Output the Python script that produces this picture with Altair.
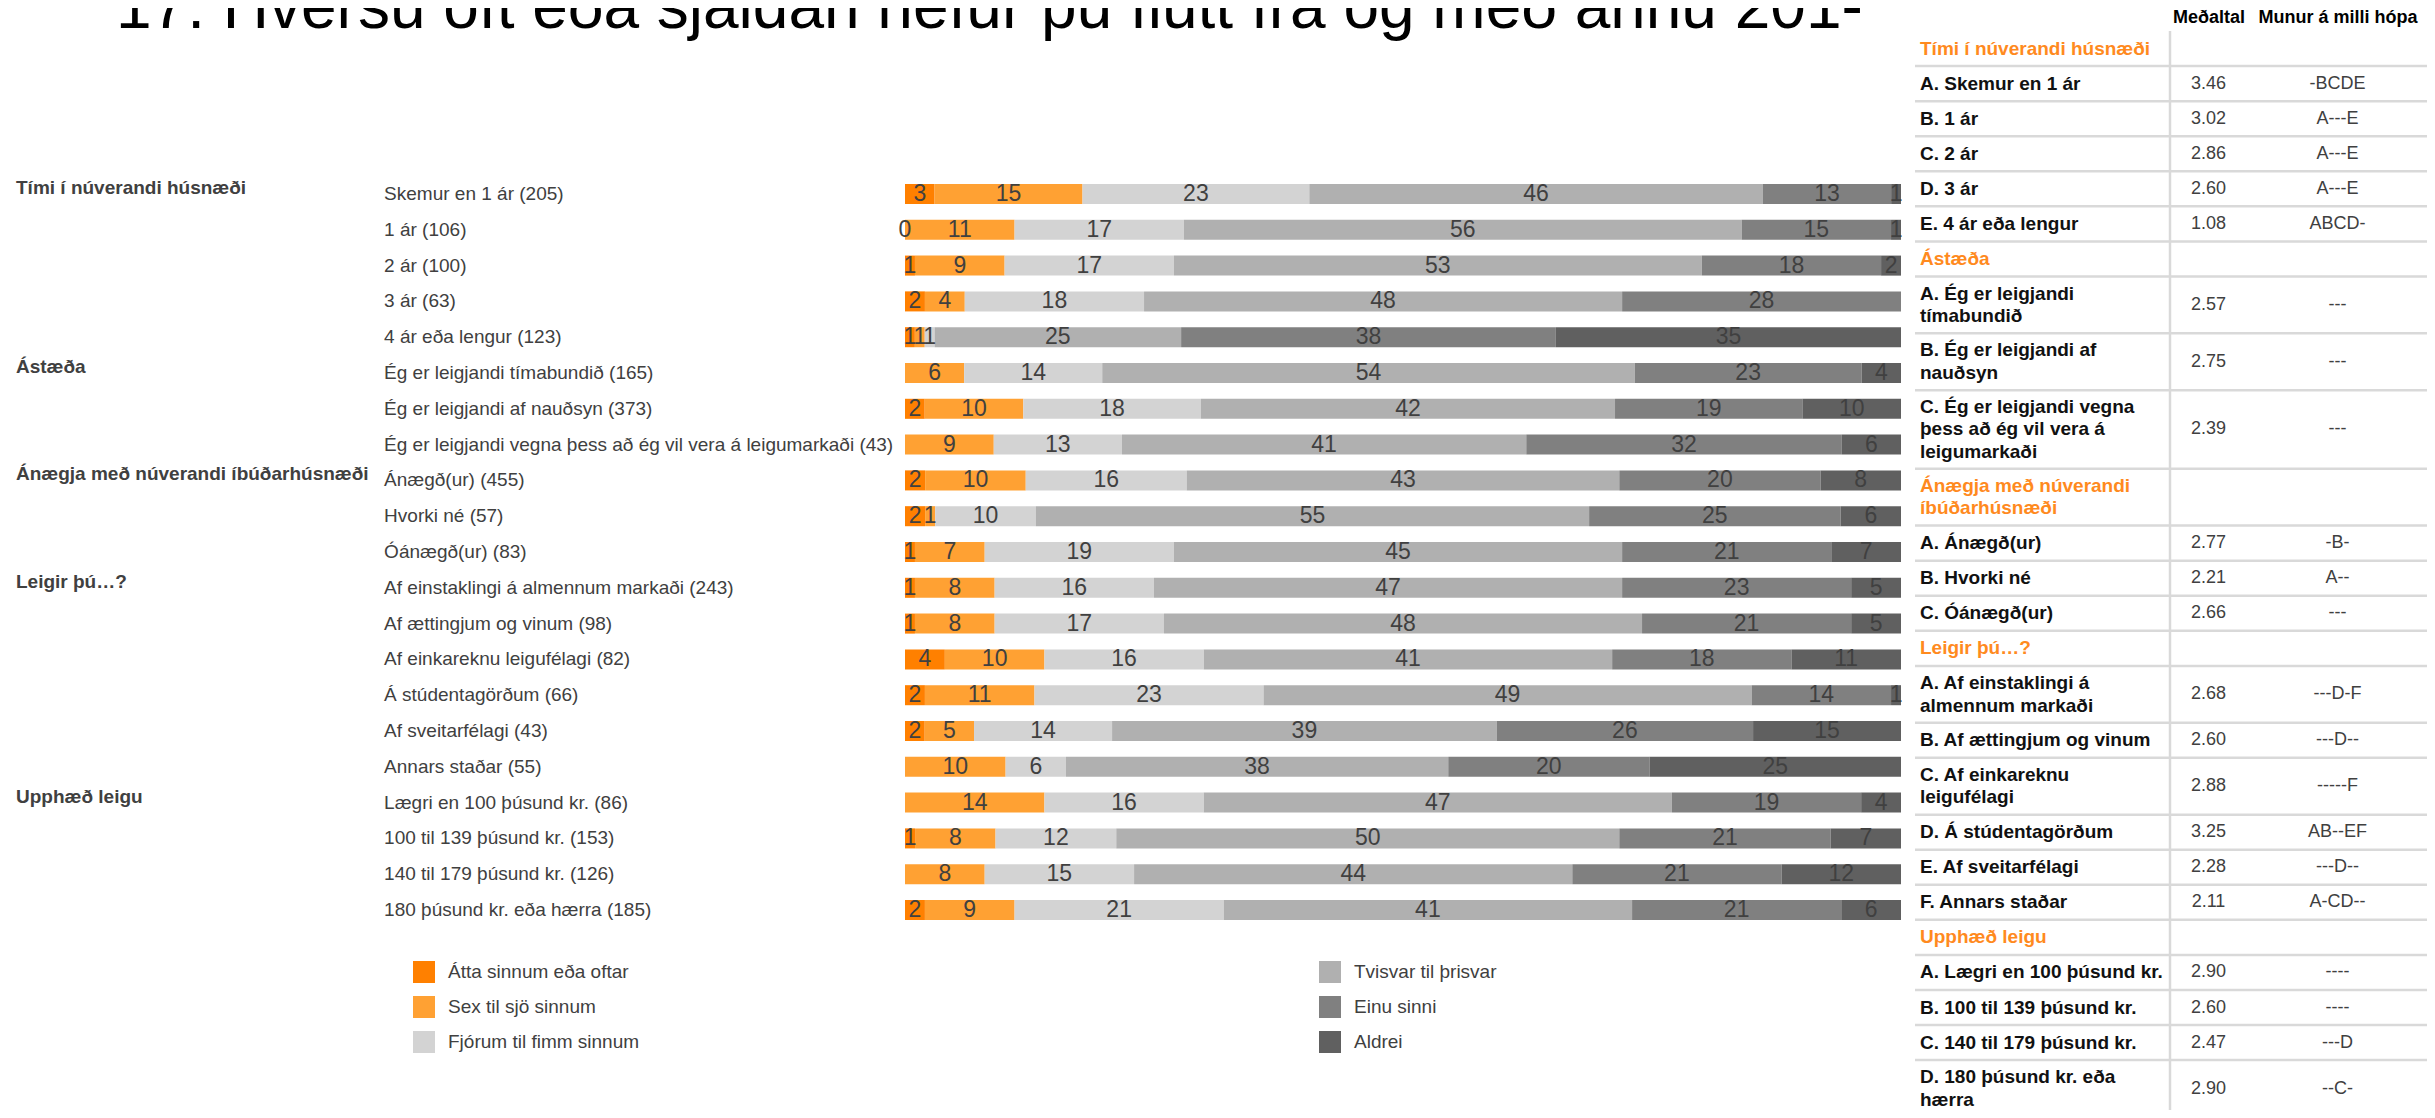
import json
import altair as alt
import pandas as pd

FONT = "Liberation Sans, Arial, sans-serif"
TXT = "#404040"
ORANGE_HDR = "#FF8A1E"

title_text = "17. Hversu oft eða sjaldan hefur þú flutt frá og með árinu 201-"

# ---------------- bar chart data ----------------
rows = [
    "Skemur en 1 ár  (205)", "1 ár (106)", "2 ár  (100)", "3 ár (63)", "4 ár eða lengur (123)",
    "Ég er leigjandi tímabundið (165)", "Ég er leigjandi af nauðsyn  (373)",
    "Ég er leigjandi vegna þess að ég vil vera á leigumarkaði  (43)",
    "Ánægð(ur) (455)", "Hvorki né (57)", "Óánægð(ur) (83)",
    "Af einstaklingi á almennum markaði (243)", "Af ættingjum og vinum (98)",
    "Af einkareknu leigufélagi (82)", "Á stúdentagörðum (66)", "Af sveitarfélagi (43)",
    "Annars staðar (55)", "Lægri en 100 þúsund kr. (86)", "100 til 139 þúsund kr. (153)",
    "140 til 179 þúsund kr. (126)", "180 þúsund kr. eða hærra (185)",
]
group_names = ["Tími í núverandi húsnæði", "Ástæða", "Ánægja með núverandi íbúðarhúsnæði",
               "Leigir þú…?", "Upphæð leigu"]
group_first_row = [0, 5, 8, 11, 17]

cats = ["Átta sinnum eða oftar", "Sex til sjö sinnum", "Fjórum til fimm sinnum",
        "Tvisvar til þrisvar", "Einu sinni", "Aldrei"]
cat_colors = ["#FF8000", "#FFA133", "#D3D3D3", "#B0B0B0", "#808080", "#606060"]

atta = [3, 0, 1, 2, 1, None, 2, None, 2, 2, 1, 1, 1, 4, 2, 2, None, None, 1, None, 2]
sex = [15, 11, 9, 4, 1, 6, 10, 9, 10, 1, 7, 8, 8, 10, 11, 5, 10, 14, 8, 8, 9]
fjorum = [23, 17, 17, 18, 1, 14, 18, 13, 16, 10, 19, 16, 17, 16, 23, 14, 6, 16, 12, 15, 21]
tvisvar = [46, 56, 53, 48, 25, 54, 42, 41, 43, 55, 45, 47, 48, 41, 49, 39, 38, 47, 50, 44, 41]
einu = [13, 15, 18, 28, 38, 23, 19, 32, 20, 25, 21, 23, 21, 18, 14, 26, 20, 19, 21, 21, 21]
aldrei = [1, 1, 2, None, 35, 4, 10, 6, 8, 6, 7, 5, 5, 11, 1, 15, 25, 4, 7, 12, 6]

# ---------------- table data ----------------
tbl_labels = [
    "Tími í núverandi húsnæði", "A. Skemur en 1 ár", "B. 1 ár", "C. 2 ár", "D. 3 ár",
    "E. 4 ár eða lengur", "Ástæða", "A. Ég er leigjandi\ntímabundið",
    "B. Ég er leigjandi af\nnauðsyn", "C. Ég er leigjandi vegna\nþess að ég vil vera á\nleigumarkaði",
    "Ánægja með núverandi\níbúðarhúsnæði", "A. Ánægð(ur)", "B. Hvorki né", "C. Óánægð(ur)",
    "Leigir þú…?", "A. Af einstaklingi á\nalmennum markaði", "B. Af ættingjum og vinum",
    "C. Af einkareknu\nleigufélagi", "D. Á stúdentagörðum", "E. Af sveitarfélagi",
    "F. Annars staðar", "Upphæð leigu", "A. Lægri en 100 þúsund kr.", "B. 100 til 139 þúsund kr.",
    "C. 140 til 179 þúsund kr.", "D. 180 þúsund kr. eða\nhærra",
]
tbl_header = [True, False, False, False, False, False, True, False, False, False, True,
              False, False, False, True, False, False, False, False, False, False, True,
              False, False, False, False]
tbl_means = [None, 3.46, 3.02, 2.86, 2.60, 1.08, None, 2.57, 2.75, 2.39, None, 2.77, 2.21,
             2.66, None, 2.68, 2.60, 2.88, 3.25, 2.28, 2.11, None, 2.90, 2.60, 2.47, 2.90]
tbl_diffs = ["", "-BCDE", "A---E", "A---E", "A---E", "ABCD-", "", "---", "---", "---", "",
             "-B-", "A--", "---", "", "---D-F", "---D--", "-----F", "AB--EF", "---D--",
             "A-CD--", "", "----", "----", "---D", "--C-"]
col_mean = "Meðaltal"
col_diff = "Munur á milli hópa"

# ---------------- build tables ----------------
series = [atta, sex, fjorum, tvisvar, einu, aldrei]
recs = []
for i, r in enumerate(rows):
    for k, (c, s) in enumerate(zip(cats, series)):
        if s[i] is not None:
            recs.append({"row": r, "cat": c, "k": k, "v": s[i]})
bar_df = pd.DataFrame(recs)

# ---------------- bar section ----------------
yscale = alt.Scale(domain=rows, range=[168.1, 919.9], paddingInner=0.44, paddingOuter=0.22)
xscale = alt.Scale(domain=[0, 1], range=[897, 1893], nice=False, zero=False)
cscale = alt.Scale(domain=cats, range=cat_colors)

expr = " : ".join(
    f"datum.value === {json.dumps(rows[i])} ? {json.dumps(g)}"
    for i, g in zip(group_first_row, group_names)
) + " : ''"

axis_rows = alt.Axis(orient="left", title=None, domain=False, ticks=False, tickSize=0,
                     grid=False, labelAlign="left", labelBaseline="middle",
                     labelPadding=-375.6, labelFontSize=19, labelFont=FONT,
                     labelColor=TXT, labelLimit=0, labelOverlap=False)
axis_groups = alt.Axis(orient="left", title=None, domain=False, ticks=False, tickSize=0,
                       grid=False, labelAlign="left", labelBaseline="middle",
                       labelPadding=-7.5, labelOffset=-6, labelFontSize=19, labelFont=FONT,
                       labelFontWeight="bold", labelColor=TXT, labelLimit=0,
                       labelOverlap=False, labelExpr=expr)

legend = alt.Legend(title=None, orient="none", legendX=405, legendY=953, columns=2,
                    columnPadding=679, rowPadding=13, symbolType="square", symbolSize=484,
                    symbolStrokeWidth=0, labelFontSize=19, labelFont=FONT, labelColor=TXT,
                    labelOffset=13, labelLimit=0)

stacked = alt.Chart(bar_df).transform_stack(
    stack="v", groupby=["row"], as_=["x0", "x1"], offset="normalize",
    sort=[alt.SortField("k", order="ascending")],
).transform_calculate(xm="(datum.x0 + datum.x1) / 2")

bars = stacked.mark_bar().encode(
    y=alt.Y("row:N", sort=rows, scale=yscale, axis=axis_rows),
    x=alt.X("x0:Q", scale=xscale, axis=None),
    x2="x1:Q",
    color=alt.Color("cat:N", scale=cscale, legend=legend),
)
nums = stacked.mark_text(fontSize=23, font=FONT, color=TXT, baseline="middle").encode(
    y=alt.Y("row:N", sort=rows, scale=yscale, axis=axis_groups),
    x=alt.X("xm:Q", scale=xscale, axis=None),
    text=alt.Text("v:Q", format="d"),
)
bar_sub = alt.layer(bars, nums).resolve_axis(y="independent")

# ---------------- table section ----------------
UNIT = 21.78
PAD = 0.61
LINE_H = 22.5
TOP = 23
tdf = pd.DataFrame({"label": tbl_labels, "hdr": tbl_header})
tdf[col_mean] = [f"{m:.2f}" if m is not None else "" for m in tbl_means]
tdf[col_diff] = tbl_diffs
tdf["n"] = tdf["label"].str.count("\n") + 1
tdf["h"] = tdf["n"] + PAD
tdf["bot"] = tdf["h"].cumsum()
tdf["top"] = tdf["bot"] - tdf["h"]
tdf["mid"] = tdf["top"] + tdf["h"] / 2
total = float(tdf["bot"].iloc[-1])
yt = alt.Scale(domain=[0, total], range=[TOP, TOP + total * UNIT], nice=False, zero=False)

# one record per text line of each table label, centred on its row
line_recs = []
for _, r in tdf.iterrows():
    parts = r["label"].split("\n")
    for j, p in enumerate(parts):
        line_recs.append({"txt": p, "hdr": bool(r["hdr"]),
                          "y": r["mid"] + (j - (len(parts) - 1) / 2) * LINE_H / UNIT})
ldf = pd.DataFrame(line_recs)

tbase = alt.Chart(tdf)
hlines = tbase.mark_rule(color="#D9D9D9", strokeWidth=2.5).encode(
    y=alt.Y("bot:Q", scale=yt, axis=None), x=alt.value(1907), x2=alt.value(2419))
vline = alt.Chart(pd.DataFrame({"a": [0.0], "b": [total]})).mark_rule(
    color="#D9D9D9", strokeWidth=2.5).encode(
    y=alt.Y("a:Q", scale=yt, axis=None), y2="b:Q", x=alt.value(2162))
tlabels = alt.Chart(ldf).mark_text(align="left", baseline="middle", fontSize=19,
                                   fontWeight="bold", font=FONT).encode(
    y=alt.Y("y:Q", scale=yt, axis=None), x=alt.value(1912), text="txt:N",
    color=alt.condition("datum.hdr", alt.value(ORANGE_HDR), alt.value("#111111")))
tvals = tbase.transform_fold([col_mean, col_diff], as_=["col", "val"]).transform_filter(
    "datum.val != ''").mark_text(align="center", baseline="middle", fontSize=18,
                                 font=FONT, color=TXT).encode(
    y=alt.Y("mid:Q", scale=yt, axis=None),
    x=alt.X("col:N", scale=alt.Scale(type="point", domain=[col_mean, col_diff],
                                     range=[2200.5, 2329.5], padding=0),
            axis=alt.Axis(orient="top", title=None, domain=False, ticks=False, tickSize=0,
                          labelPadding=-18, labelAngle=0, labelFontSize=18,
                          labelFontWeight="bold", labelColor="#000000", labelFont=FONT,
                          labelLimit=0, labelOverlap=False)),
    text="val:N")
table_sub = alt.layer(hlines, vline, tlabels, tvals)

title_layer = alt.Chart(pd.DataFrame({"t": [title_text]})).mark_text(
    align="left", baseline="alphabetic", fontSize=64, font=FONT, color="#000000").encode(
    text="t:N", x=alt.value(108), y=alt.value(20))

chart = alt.layer(bar_sub, table_sub, title_layer).resolve_scale(
    x="independent", y="independent", color="independent"
).properties(width=2419, height=1102, padding=0,
             autosize=alt.AutoSizeParams(type="none")).configure_view(stroke=None)

chart.save("out.html", embed_options={"renderer": "svg", "actions": False})
